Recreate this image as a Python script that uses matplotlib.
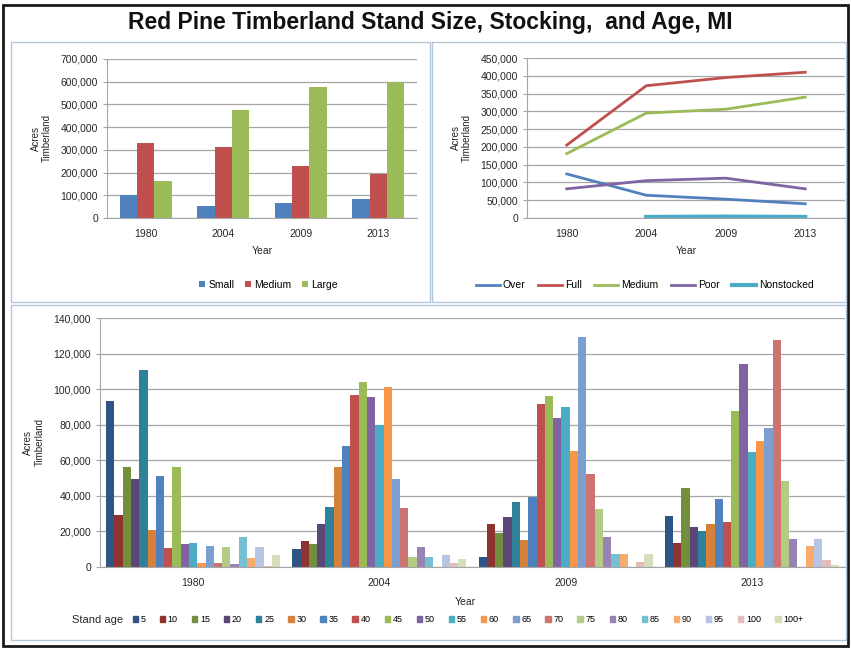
import numpy as np
import matplotlib.pyplot as plt
from matplotlib.patches import Rectangle
from matplotlib.ticker import FuncFormatter

plt.rcParams['font.family'] = ['Liberation Sans', 'DejaVu Sans']

years = ['1980', '2004', '2009', '2013']

# stand size, acres of timberland
size_names = ['Small', 'Medium', 'Large']
small = [102000, 51000, 66000, 83000]
medium = [329000, 312000, 231000, 193000]
large = [164000, 476000, 578000, 600000]

# stocking class, acres of timberland
stock_names = ['Over', 'Full', 'Medium', 'Poor', 'Nonstocked']
over = [124000, 64000, 53000, 40000]
full = [205000, 372000, 395000, 410000]
medium_stock = [181000, 295000, 306000, 340000]
poor = [82000, 105000, 112000, 82000]
nonstocked = [np.nan, 3000, 4000, 3000]

# stand age class, acres of timberland
age_classes = ['5', '10', '15', '20', '25', '30', '35', '40', '45', '50', '55',
               '60', '65', '70', '75', '80', '85', '90', '95', '100', '100+']
age_1980 = [93400, 29300, 56300, 49300, 110700, 20600, 51200, 10500, 56500, 12800, 13300,
            2000, 12000, 2000, 11400, 1500, 16900, 5300, 11300, 600, 6800]
age_2004 = [10300, 14600, 13100, 24000, 33800, 56500, 68100, 96800, 104100, 95700, 79700,
            101300, 49300, 33000, 5600, 11300, 5600, 0, 6800, 2400, 4700]
age_2009 = [5600, 24000, 19300, 28300, 36800, 15000, 39600, 91600, 95900, 83700, 89700,
            65300, 129500, 52200, 32800, 16900, 7100, 7500, 0, 3000, 7500]
age_2013 = [28700, 13700, 44300, 22500, 20300, 24400, 38100, 25300, 87800, 114000, 64400,
            70900, 78400, 127600, 48400, 15600, 0, 11800, 15600, 3800, 1100]

size_colors = ['#4F81BD', '#C0504D', '#9BBB59']
stock_colors = ['#4F81BD', '#C0504D', '#9BBB59', '#8064A2', '#4BACC6']
age_colors = ['#2F5486', '#8E3330', '#728F3D', '#5C4678', '#2E8199', '#D7803A',
              '#4F81BD', '#C0504D', '#9BBB59', '#8064A2', '#4BACC6', '#F79646',
              '#7B9FCF', '#CD7371', '#B3CB83', '#9983B5', '#77C0D4', '#F9AB6B',
              '#B6C5E3', '#E4BCBB', '#D5DDBB']

W, H = 851, 650
fig = plt.figure(figsize=(W / 100, H / 100), dpi=100)
text_color = '#262626'
grid_color = '#A6A6A6'


def px_axes(x0, y0, x1, y1):
    return fig.add_axes([x0 / W, 1 - y1 / H, (x1 - x0) / W, (y1 - y0) / H])


def px_box(x0, y0, x1, y1, color, lw):
    fig.patches.append(Rectangle((x0 / W, 1 - y1 / H), (x1 - x0) / W, (y1 - y0) / H,
                                 transform=fig.transFigure, fill=False, ec=color, lw=lw))


def style_axes(ax, ymax, step):
    ax.set_ylim(0, ymax)
    ax.set_yticks(np.arange(0, ymax + 1, step))
    ax.yaxis.set_major_formatter(FuncFormatter(lambda v, p: f'{v:,.0f}'))
    ax.yaxis.grid(True, color=grid_color, lw=0.9)
    ax.set_axisbelow(True)
    for side in ['top', 'right']:
        ax.spines[side].set_visible(False)
    for side in ['left', 'bottom']:
        ax.spines[side].set_color(grid_color)
    ax.tick_params(axis='both', labelsize=7.5, colors=text_color, length=3, color=grid_color)
    ax.tick_params(axis='x', length=0, pad=8)
    ax.set_ylabel('Acres\nTimberland', fontsize=7, color=text_color, labelpad=6)


# frames
px_box(3, 5, 848, 646, '#1A1A1A', 2)
px_box(11, 42, 430, 302, '#B4C6DC', 1)
px_box(432, 42, 846, 302, '#B4C6DC', 1)
px_box(11, 305, 846, 640, '#B4C6DC', 1)

fig.text(430 / W, 1 - 22 / H, 'Red Pine Timberland Stand Size, Stocking,  and Age, MI',
         ha='center', va='center', fontsize=16.5, fontweight='bold', color='#111111')

# stand size
ax1 = px_axes(107, 59, 417, 218)
x = np.arange(len(years))
bw = 0.223
for i, (vals, name) in enumerate(zip([small, medium, large], size_names)):
    ax1.bar(x + (i - 1) * bw, vals, bw, color=size_colors[i], label=name)
ax1.set_xlim(-0.5, 3.5)
ax1.set_xticks(x)
ax1.set_xticklabels(years)
style_axes(ax1, 700000, 100000)
ax1.set_xlabel('Year', fontsize=7.5, color=text_color, labelpad=5)
ax1.legend(loc='center', bbox_to_anchor=(0.52, -0.42), ncol=3, frameon=False, fontsize=7.5,
           handlelength=0.6, handleheight=0.6, handletextpad=0.3, columnspacing=1.0)

# stocking
ax2 = px_axes(527, 58, 845, 218)
for vals, name, c in zip([over, full, medium_stock, poor, nonstocked], stock_names, stock_colors):
    ax2.plot(x, vals, color=c, lw=3 if name == 'Nonstocked' else 2, label=name)
ax2.set_xlim(-0.5, 3.5)
ax2.set_xticks(x)
ax2.set_xticklabels(years)
style_axes(ax2, 450000, 50000)
ax2.set_xlabel('Year', fontsize=7.5, color=text_color, labelpad=5)
ax2.legend(loc='center', bbox_to_anchor=(0.371, -0.42), ncol=5, frameon=False, fontsize=7.5,
           handlelength=2.3, handletextpad=0.3, columnspacing=1.2)

# stand age
ax3 = px_axes(100, 318, 845, 567)
age_data = np.array([age_1980, age_2004, age_2009, age_2013])
n = len(age_classes)
bw3 = 0.935 / n
for j in range(n):
    ax3.bar(x - 0.935 / 2 + (j + 0.5) * bw3, age_data[:, j], bw3, color=age_colors[j],
            label=age_classes[j])
ax3.set_xlim(-0.5, 3.5)
ax3.set_xticks(x)
ax3.set_xticklabels(years)
style_axes(ax3, 140000, 20000)
ax3.set_xlabel('Year', fontsize=7.5, color=text_color, labelpad=2)
ax3.xaxis.set_label_coords(0.49, -0.12)

handles = [Rectangle((0, 0), 1, 1, color=c) for c in age_colors]
fig.legend(handles, age_classes, loc='center', bbox_to_anchor=(468 / W, 1 - 620 / H), ncol=n,
           frameon=False, fontsize=6.5, handlelength=0.6, handleheight=0.6,
           handletextpad=0.3, columnspacing=1.55)
fig.text(72 / W, 1 - 620 / H, 'Stand age', ha='left', va='center', fontsize=8, color=text_color)

fig.savefig('out.png', dpi=100)
